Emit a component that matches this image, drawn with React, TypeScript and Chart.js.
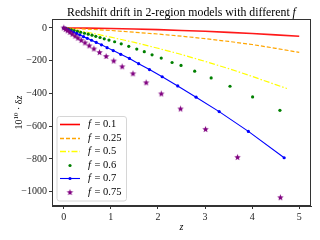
import React, { useEffect, useRef } from "react";
import { Chart, registerables } from "chart.js";
Chart.register(...registerables);

const SERIF = '"Liberation Serif", "DejaVu Serif", serif';

const xTicks = [0, 1, 2, 3, 4, 5];
const yTicks = [0, -200, -400, -600, -800, -1000];
const fLabels = ["0.1", "0.25", "0.5", "0.6", "0.7", "0.75"];

const redZ = [0, 0.5, 1, 1.5, 2, 2.5, 3, 3.5, 4, 4.5, 5];
const redY = [0, -1, -3, -6, -10, -15, -20, -27, -34, -42, -50];

const orangeZ = [0, 0.5, 1, 1.5, 2, 2.5, 3, 3.5, 4, 4.5, 5];
const orangeY = [0, -7, -15, -26, -37, -50, -65, -82, -101, -124, -149];

const yellowZ = [0, 0.5, 1, 1.5, 2, 2.5, 3, 3.5, 4, 4.5, 4.74];
const yellowY = [0, -26, -56, -88, -124, -162, -204, -248, -296, -346, -370];

const greenZ = [0, 0.05, 0.1, 0.16, 0.22, 0.29, 0.36, 0.44, 0.52, 0.6, 0.68, 0.77, 0.86, 0.96, 1.08, 1.22, 1.38, 1.55, 1.71, 1.875, 2.07, 2.3, 2.49, 2.78, 3.13, 3.53, 4.01, 4.59];
const greenY = [0, -3, -7, -11, -16, -21, -26, -32, -38, -44, -51, -58, -66, -74, -84, -97, -112, -129, -145, -164, -184, -211, -229, -264, -305, -356, -421, -503];

const blueZ = [0, 0.04, 0.09, 0.14, 0.2, 0.27, 0.34, 0.42, 0.5, 0.59, 0.69, 0.8, 0.92, 1.05, 1.21, 1.395, 1.59, 1.82, 2.09, 2.42, 2.81, 3.3, 3.92, 4.68];
const blueY = [0, -5, -11, -17, -25, -33, -42, -53, -63, -75, -88, -103, -120, -138, -161, -186, -218, -254, -298, -354, -423, -511, -632, -793];

const purpleZ = [0, 0.04, 0.08, 0.13, 0.18, 0.24, 0.3, 0.37, 0.45, 0.54, 0.64, 0.76, 0.9, 1.06, 1.24, 1.47, 1.75, 2.07, 2.48, 3.01, 3.69, 4.6];
const purpleY = [0, -9, -17, -27, -38, -50, -62, -76, -91, -109, -128, -150, -174, -202, -237, -280, -335, -403, -495, -620, -791, -1037];

function pts(xs: number[], ys: number[]) {
  return xs.map((x, i) => ({ x, y: ys[i] }));
}

function makeStar(color: string, r: number) {
  const c = document.createElement("canvas");
  const s = Math.ceil(r * 2 + 2);
  c.width = s;
  c.height = s;
  const g = c.getContext("2d")!;
  g.fillStyle = color;
  g.beginPath();
  for (let i = 0; i < 10; i++) {
    const rad = i % 2 === 0 ? r : r * 0.42;
    const a = -Math.PI / 2 + (i * Math.PI) / 5;
    const px = s / 2 + rad * Math.cos(a);
    const py = s / 2 + rad * Math.sin(a);
    if (i === 0) g.moveTo(px, py);
    else g.lineTo(px, py);
  }
  g.closePath();
  g.fill();
  return c;
}

const minus = (v: number | string) => String(v).replace("-", "\u2212");

export default function App() {
  const ref = useRef<HTMLCanvasElement>(null);
  useEffect(() => {
    const star = makeStar("#800080", 3.4);
    const legendStyles = [
      { kind: "line", color: "#ff0000", width: 1.6, dash: [] as number[] },
      { kind: "line", color: "#ffa500", width: 1.4, dash: [4, 2] },
      { kind: "line", color: "#ffff00", width: 1.3, dash: [6, 2, 1.5, 2] },
      { kind: "dot", color: "#008000" },
      { kind: "linedot", color: "#0000ff", width: 1.1 },
      { kind: "star", color: "#800080" },
    ];

    const deco = {
      id: "deco",
      afterDraw(chart: any) {
        const ctx = chart.ctx as CanvasRenderingContext2D;
        const a = chart.chartArea;
        ctx.save();
        ctx.strokeStyle = "#333";
        ctx.lineWidth = 1;
        ctx.strokeRect(Math.round(a.left) + 0.5, Math.round(a.top) + 0.5, Math.round(a.right - a.left) - 1, Math.round(a.bottom - a.top) - 1);

        const t1 = "Redshift drift in 2-region models with different ";
        ctx.fillStyle = "#000";
        ctx.textBaseline = "alphabetic";
        ctx.font = `10px ${SERIF}`;
        const w1 = ctx.measureText(t1).width;
        ctx.font = `italic 10px ${SERIF}`;
        const w2 = ctx.measureText("f").width;
        const size = (10 * 229) / (w1 + w2);
        ctx.font = `${size}px ${SERIF}`;
        const W1 = ctx.measureText(t1).width;
        ctx.font = `italic ${size}px ${SERIF}`;
        const W2 = ctx.measureText("f").width;
        const cx = (a.left + a.right) / 2;
        const x0 = cx - (W1 + W2) / 2;
        ctx.textAlign = "left";
        ctx.font = `${size}px ${SERIF}`;
        ctx.fillText(t1, x0, 15.5);
        ctx.font = `italic ${size}px ${SERIF}`;
        ctx.fillText("f", x0 + W1, 15.5);

        ctx.font = `italic 10px ${SERIF}`;
        ctx.textAlign = "center";
        ctx.fillText("z", cx, 230);

        ctx.save();
        ctx.translate(18, (a.top + a.bottom) / 2);
        ctx.rotate(-Math.PI / 2);
        ctx.textAlign = "left";
        const parts = [
          { t: "10", f: `10px ${SERIF}`, dy: 0 },
          { t: "10", f: `7px ${SERIF}`, dy: -4 },
          { t: " \u00b7 \u03b4", f: `10px ${SERIF}`, dy: 0 },
          { t: "z", f: `italic 10px ${SERIF}`, dy: 0 },
        ];
        let tw = 0;
        for (const p of parts) { ctx.font = p.f; tw += ctx.measureText(p.t).width; }
        let px = -tw / 2;
        for (const p of parts) {
          ctx.font = p.f;
          ctx.fillText(p.t, px, 3.5 + p.dy);
          px += ctx.measureText(p.t).width;
        }
        ctx.restore();

        const lx = 57, ly = 116.5, lw = 69.5, lh = 84.5, r = 2.5;
        ctx.beginPath();
        ctx.moveTo(lx + r, ly);
        ctx.arcTo(lx + lw, ly, lx + lw, ly + lh, r);
        ctx.arcTo(lx + lw, ly + lh, lx, ly + lh, r);
        ctx.arcTo(lx, ly + lh, lx, ly, r);
        ctx.arcTo(lx, ly, lx + lw, ly, r);
        ctx.closePath();
        ctx.fillStyle = "rgba(255,255,255,0.8)";
        ctx.fill();
        ctx.strokeStyle = "#d6d6d6";
        ctx.lineWidth = 1;
        ctx.stroke();

        legendStyles.forEach((st: any, i) => {
          const y = Math.round(124 + i * 13.5) + 0.5;
          if (st.kind === "line" || st.kind === "linedot") {
            ctx.beginPath();
            ctx.strokeStyle = st.color;
            ctx.lineWidth = st.width;
            ctx.setLineDash(st.dash || []);
            ctx.moveTo(60, y);
            ctx.lineTo(80, y);
            ctx.stroke();
            ctx.setLineDash([]);
          }
          if (st.kind === "dot" || st.kind === "linedot") {
            ctx.beginPath();
            ctx.fillStyle = st.color;
            ctx.arc(70, y, 1.6, 0, Math.PI * 2);
            ctx.fill();
          }
          if (st.kind === "star") {
            ctx.drawImage(star, 70 - star.width / 2, y - star.height / 2);
          }
          ctx.fillStyle = "#000";
          ctx.textAlign = "left";
          ctx.textBaseline = "middle";
          ctx.font = `italic 10.5px ${SERIF}`;
          ctx.fillText("f", 88, y);
          const fw = ctx.measureText("f").width;
          ctx.font = `10.5px ${SERIF}`;
          ctx.fillText(" = " + fLabels[i], 88 + fw + 1, y);
        });
        ctx.restore();
      },
    };

    const chart = new Chart(ref.current!, {
      type: "scatter",
      data: {
        datasets: [
          { label: "f = " + fLabels[0], data: pts(redZ, redY), showLine: true, borderColor: "rgba(255,0,0,0.9)", borderWidth: 1.6, pointRadius: 0, order: 6 },
          { label: "f = " + fLabels[1], data: pts(orangeZ, orangeY), showLine: true, borderColor: "#ffa500", borderWidth: 1.2, borderDash: [4, 2], pointRadius: 0, order: 5 },
          { label: "f = " + fLabels[2], data: pts(yellowZ, yellowY), showLine: true, borderColor: "#ffff00", borderWidth: 1.2, borderDash: [6, 2, 1.5, 2], pointRadius: 0, order: 4 },
          { label: "f = " + fLabels[3], data: pts(greenZ, greenY), showLine: false, backgroundColor: "#008000", borderColor: "#008000", borderWidth: 0, pointRadius: 1.6, order: 3 },
          { label: "f = " + fLabels[4], data: pts(blueZ, blueY), showLine: true, borderColor: "#0000ff", backgroundColor: "#0000ff", borderWidth: 1.1, pointRadius: 1.6, pointBorderWidth: 0, order: 2 },
          { label: "f = " + fLabels[5], data: pts(purpleZ, purpleY), showLine: false, pointStyle: star as any, pointRadius: 3.4, order: 1 },
        ] as any,
      },
      options: {
        responsive: false,
        animation: false,
        layout: { padding: { top: 19, right: 9, left: 0, bottom: 0 } },
        plugins: { legend: { display: false }, title: { display: false }, tooltip: { enabled: false } },
        scales: {
          x: {
            type: "linear",
            min: -0.25,
            max: 5.25,
            afterBuildTicks: (s: any) => { s.ticks = xTicks.map((v) => ({ value: v })); },
            afterFit: (s: any) => { s.height = 34; },
            grid: { display: true, drawOnChartArea: false, drawTicks: true, tickLength: 3, color: "#333" },
            border: { display: true, color: "#333", width: 1 },
            ticks: { font: { family: SERIF, size: 10 }, color: "#222", padding: 2, maxRotation: 0, autoSkip: false, callback: (v: any) => minus(v) },
          },
          y: {
            type: "linear",
            min: -1088,
            max: 55,
            afterBuildTicks: (s: any) => { s.ticks = yTicks.map((v) => ({ value: v })); },
            afterFit: (s: any) => { s.width = 52; },
            grid: { display: true, drawOnChartArea: false, drawTicks: true, tickLength: 3, color: "#333" },
            border: { display: true, color: "#333", width: 1 },
            ticks: { font: { family: SERIF, size: 10 }, color: "#222", padding: 2, autoSkip: false, callback: (v: any) => minus(v) },
          },
        },
      },
      plugins: [deco],
    });
    return () => chart.destroy();
  }, []);
  return (
    <div style={{ position: "fixed", left: 0, top: 0, width: 320, height: 240, background: "#fff" }}>
      <canvas ref={ref} width={320} height={240} style={{ display: "block" }} />
    </div>
  );
}
